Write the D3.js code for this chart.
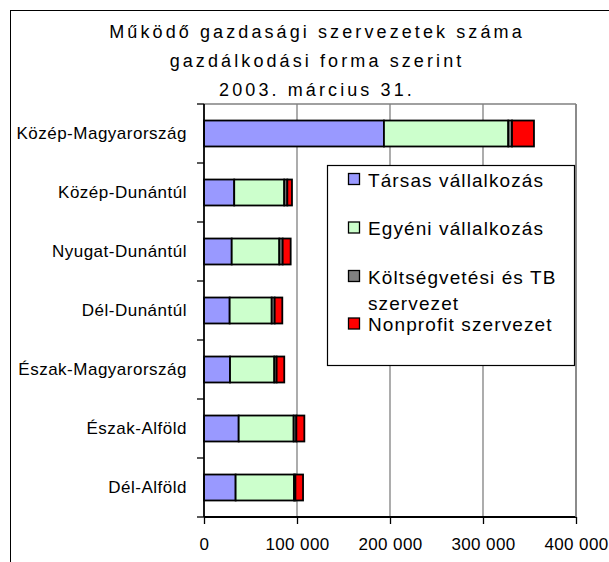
<!DOCTYPE html>
<html><head><meta charset="utf-8">
<script src="https://cdn.jsdelivr.net/npm/d3@7"></script>
<style>
body{margin:0;background:#fff;}
svg{display:block;font-family:"Liberation Sans",Arial,sans-serif;}
</style></head>
<body>
<svg id="c" width="609" height="562"></svg>
<script>
const titleLines = ["Működő gazdasági szervezetek száma","gazdálkodási forma szerint","2003. március 31."];
const categories = ["Közép-Magyarország","Közép-Dunántúl","Nyugat-Dunántúl","Dél-Dunántúl","Észak-Magyarország","Észak-Alföld","Dél-Alföld"];
const seriesNames = ["Társas vállalkozás","Egyéni vállalkozás","Költségvetési és TB szervezet","Nonprofit szervezet"];
const tarsas = [193500, 32500, 29800, 27600, 28000, 37300, 34000];
const egyeni = [133700, 53800, 51200, 45200, 47600, 59100, 62800];
const koltseg = [4000, 3300, 3600, 3200, 2500, 2900, 1500];
const nonprofit = [23600, 5000, 8600, 8200, 8200, 8600, 8200];
const xTicks = [0, 100000, 200000, 300000, 400000];
const colors = ["#9999FF","#CCFFCC","#808080","#FF0000"];

const svg = d3.select("#c");
// outer frame
svg.append("rect").attr("x",10.5).attr("y",10.5).attr("width",640).attr("height",620)
  .attr("fill","#fff").attr("stroke","#000").attr("stroke-width",1);

// title
svg.append("g").selectAll("text").data(titleLines).join("text")
  .attr("x",317).attr("y",(d,i)=>38+i*29).attr("text-anchor","middle")
  .attr("font-size",18).attr("letter-spacing",3.1).attr("fill","#000").text(d=>d);

const x0=204,x1=576,y0=104,y1=517;
const x = d3.scaleLinear().domain([0,400000]).range([x0,x1]);
const y = d3.scaleBand().domain(categories).range([y0,y1]).padding(0);
const barH = y.bandwidth()*0.44;

// grid
svg.append("g").selectAll("line").data(xTicks.slice(1)).join("line")
  .attr("x1",d=>x(d)).attr("x2",d=>x(d)).attr("y1",y0).attr("y2",y1)
  .attr("stroke","#808080").attr("stroke-width",1.3);
svg.append("line").attr("x1",x0).attr("x2",x1).attr("y1",y0).attr("y2",y0)
  .attr("stroke","#808080").attr("stroke-width",1.3);

// stacked data
const rows = categories.map((c,i)=>({cat:c, s0:tarsas[i], s1:egyeni[i], s2:koltseg[i], s3:nonprofit[i]}));
const stack = d3.stack().keys(["s0","s1","s2","s3"])(rows);
const gBars = svg.append("g");
stack.forEach((layer,k)=>{
  gBars.append("g").selectAll("rect").data(layer).join("rect")
    .attr("x",d=>x(d[0])).attr("width",d=>x(d[1])-x(d[0]))
    .attr("y",d=>y(d.data.cat)+(y.bandwidth()-barH)/2).attr("height",barH)
    .attr("fill",colors[k]).attr("stroke","#000").attr("stroke-width",1.8);
});

// x axis
const xAxis = svg.append("g").attr("transform",`translate(0,${y1})`)
  .call(d3.axisBottom(x).tickValues(xTicks).tickSize(7).tickPadding(14)
    .tickFormat(d=>d3.format(",")(d).replace(/,/g," ")));
xAxis.select(".domain").attr("stroke","#000").attr("stroke-width",1.8).attr("d",`M${x0},0H${x1}`);
xAxis.selectAll(".tick line").attr("stroke","#000").attr("stroke-width",1.3);
xAxis.selectAll(".tick text").attr("font-size",17).attr("font-family","Liberation Sans, Arial, sans-serif")
  .attr("fill","#000").attr("letter-spacing",0.4);

// y axis
const yAxis = svg.append("g").attr("transform",`translate(${x0},0)`)
  .call(d3.axisLeft(y).tickSize(0).tickPadding(17));
yAxis.select(".domain").attr("stroke","#000").attr("stroke-width",1.8).attr("d",`M0,${y0}V${y1}`);
yAxis.selectAll(".tick text").attr("font-size",17).attr("font-family","Liberation Sans, Arial, sans-serif")
  .attr("fill","#000").attr("letter-spacing",0.5);
// boundary ticks
const bounds = categories.map(c=>y(c)).concat([y1]);
svg.append("g").selectAll("line").data(bounds).join("line")
  .attr("x1",x0-7).attr("x2",x0).attr("y1",d=>d).attr("y2",d=>d)
  .attr("stroke","#000").attr("stroke-width",1.3);

// right border of plot
svg.append("line").attr("x1",x1).attr("x2",x1).attr("y1",y0).attr("y2",y1)
  .attr("stroke","#808080").attr("stroke-width",1.5);

// legend
const lg = svg.append("g");
lg.append("rect").attr("x",327.5).attr("y",165.5).attr("width",247).attr("height",200)
  .attr("fill","#fff").attr("stroke","#000").attr("stroke-width",1.2);
const legendLines = [["Társas vállalkozás"],["Egyéni vállalkozás"],["Költségvetési és TB","szervezet"],["Nonprofit szervezet"]];
const legendY = [186.5, 235, 283.5, 331];
legendLines.forEach((lines,i)=>{
  const markerY = i===3 ? legendY[i]-13 : legendY[i]-13;
  lg.append("rect").attr("x",348.5).attr("y",markerY).attr("width",11).attr("height",11)
    .attr("fill",colors[i]).attr("stroke","#000").attr("stroke-width",1.3);
  lines.forEach((t,j)=>{
    lg.append("text").attr("x",368).attr("y",legendY[i]+j*26.5).attr("font-size",19)
      .attr("letter-spacing",1.1).attr("fill","#000").text(t);
  });
});
</script>
</body></html>
